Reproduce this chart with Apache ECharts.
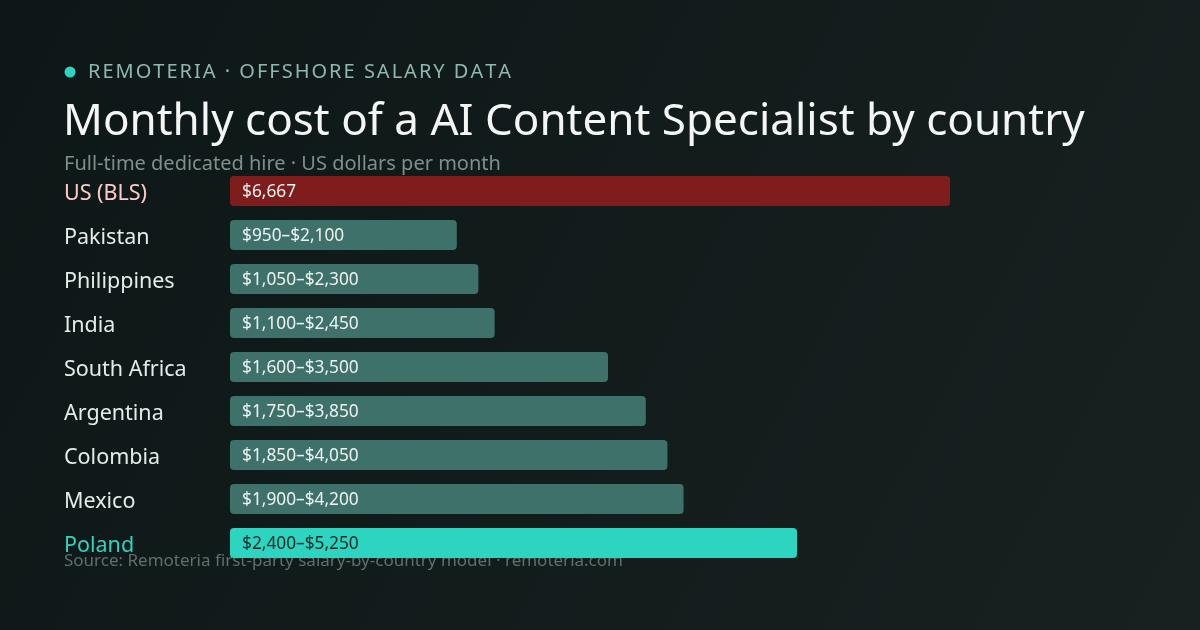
<!DOCTYPE html>
<html><head><meta charset="utf-8">
<script src="https://cdn.jsdelivr.net/npm/echarts@6/dist/echarts.min.js"></script>
<style>html,body{margin:0;background:#101a1a}#c{width:1200px;height:630px}</style>
</head><body><div id="c"></div>
<script>
const countries = ['US (BLS)','Pakistan','Philippines','India','South Africa','Argentina','Colombia','Mexico','Poland']
const lows = [6667,950,1050,1100,1600,1750,1850,1900,2400]
const highs = [6667,2100,2300,2450,3500,3850,4050,4200,5250]

const fmt = v => '$' + v.toLocaleString('en-US')
const barColor = i => i===0 ? '#7f1d1d' : (i===countries.length-1 ? '#2dd4bf' : '#3f716b')
// letter-spaced header via hair spaces
const spaced = s => s.split('').join('\u200A')

const chart = echarts.init(document.getElementById('c'))
chart.setOption({
  backgroundColor: {type:'linear',x:0,y:0,x2:1,y2:1,colorStops:[{offset:0,color:'#0e1717'},{offset:1,color:'#172120'}]},
  textStyle:{fontFamily:'Noto Sans'},
  graphic:[
    {type:'circle',shape:{cx:70,cy:72,r:5.5},style:{fill:'#2dd4bf'}},
    {type:'text',left:88,top:62,style:{text:spaced('REMOTERIA · OFFSHORE SALARY DATA'),font:'20px "Noto Sans"',fill:'#8fb8b0'}},
    {type:'text',left:63,top:100,style:{text:'Monthly cost of a AI Content Specialist by country',font:'44px "Noto Sans"',fill:'#f4f6f5'}},
    {type:'text',left:64,top:154,style:{text:'Full-time dedicated hire · US dollars per month',font:'20px "Noto Sans"',fill:'#7f8f8c'}},
    {type:'text',left:64,top:553,style:{text:'Source: Remoteria first-party salary-by-country model · remoteria.com',font:'17px "Noto Sans"',fill:'#5f6f6c'}}
  ],
  grid:{left:230,top:169,width:864,height:396},
  xAxis:{type:'value',min:0,max:8000,show:false},
  yAxis:{type:'category',inverse:true,data:countries,
    axisLine:{show:false},axisTick:{show:false},
    axisLabel:{align:'left',margin:166,fontSize:21.5,padding:[5,0,0,0],
      formatter:(v,i)=> i===0?'{us|'+v+'}':(i===countries.length-1?'{pl|'+v+'}':'{n|'+v+'}'),
      rich:{us:{color:'#fecaca',fontSize:21.5},pl:{color:'#2dd4bf',fontSize:21.5},n:{color:'#e6ebea',fontSize:21.5}}}},
  series:[{type:'bar',barWidth:30,
    data:highs.map((h,i)=>({value:h,itemStyle:{color:barColor(i),borderRadius:4},
      label:{color:i===countries.length-1?'#0b2a27':'#eef2f1'}})),
    label:{show:true,position:'insideLeft',distance:12,fontSize:17.3,offset:[0,1],
      formatter:p=> lows[p.dataIndex]===highs[p.dataIndex]?fmt(highs[p.dataIndex]):fmt(lows[p.dataIndex])+'–'+fmt(highs[p.dataIndex])}
  }]
})
</script></body></html>
